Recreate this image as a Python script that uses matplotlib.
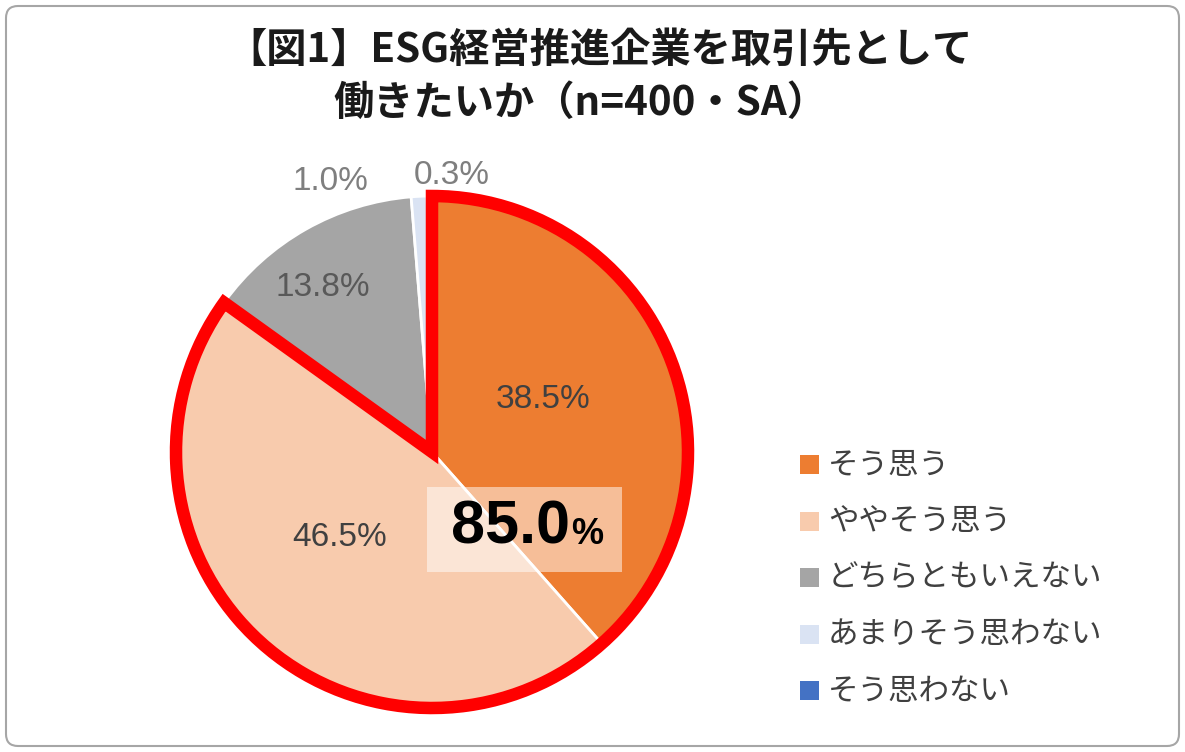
import matplotlib.pyplot as plt
import matplotlib.patches as patches

plt.rcParams['font.family'] = ['Noto Sans CJK JP', 'DejaVu Sans']

categories = ['そう思う', 'ややそう思う', 'どちらともいえない', 'あまりそう思わない', 'そう思わない']
values = [38.5, 46.5, 13.8, 1.0, 0.3]
labels = ['38.5%', '46.5%', '13.8%', '1.0%', '0.3%']
colors = ['#ED7D31', '#F8CBAD', '#A5A5A5', '#DAE3F3', '#4472C4']
label_pos = [(543, 400), (340, 537), (323, 287), (330, 181), (452, 175)]
label_colors = ['#404040', '#404040', '#595959', '#7F7F7F', '#7F7F7F']

W, H = 1185, 752
fig = plt.figure(figsize=(W / 100, H / 100), dpi=100)
ax = fig.add_axes([0, 0, 1, 1])

# frame
ax.add_patch(patches.FancyBboxPatch((6, 6), W - 12, H - 12, boxstyle='round,pad=0,rounding_size=12',
                                    facecolor='white', edgecolor='#A6A6A6', linewidth=1.5))

cx, cy, r = 432, H - 452, 256
wedges, _ = ax.pie(values, colors=colors, startangle=90, counterclock=False,
                   center=(cx, cy), radius=r, frame=True,
                   wedgeprops=dict(edgecolor='white', linewidth=2))
ax.set_xlim(0, W)
ax.set_ylim(0, H)
ax.set_aspect('equal')
ax.axis('off')

# red outline around the top-two box
top2 = values[0] + values[1]
ax.add_patch(patches.Wedge((cx, cy), r, 90 - top2 / sum(values) * 360, 90,
                           fill=False, edgecolor='#FF0000', linewidth=9, joinstyle='miter'))

for lab, (px, py), c in zip(labels, label_pos, label_colors):
    ax.text(px, H - py, lab, ha='center', va='center', fontsize=24, color=c, family=['Liberation Sans'])

# 85.0% box
ax.add_patch(patches.Rectangle((427, H - 572), 195, 85, facecolor='white', alpha=0.5, edgecolor='none'))
ax.text(570, H - 528, '85.0', ha='right', va='center', fontsize=44, fontweight='bold',
        color='black', family=['Liberation Sans Narrow', 'Liberation Sans'])
ax.text(571, H - 535, '%', ha='left', va='center', fontsize=26, fontweight='bold',
        color='black', family=['Liberation Sans Narrow', 'Liberation Sans'])

ax.text(600, H - 50, '【図1】ESG経営推進企業を取引先として', ha='center', va='center',
        fontsize=29, fontweight='bold', color='#1a1a1a')
ax.text(580, H - 103, '働きたいか（n=400・SA）', ha='center', va='center',
        fontsize=29, fontweight='bold', color='#1a1a1a')

# legend
for i, (cat, c) in enumerate(zip(categories, colors)):
    y = H - (465 + i * 56.5)
    ax.add_patch(patches.Rectangle((800, y - 9), 19, 19, facecolor=c, edgecolor='none'))
    ax.text(828, y, cat, ha='left', va='center', fontsize=22, color='#404040')

fig.savefig('out.png', dpi=100)
